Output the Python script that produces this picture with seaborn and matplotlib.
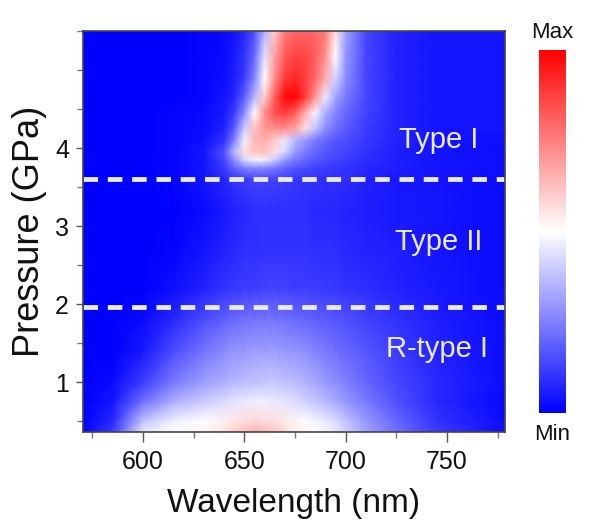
import numpy as np
import matplotlib
matplotlib.use('Agg')
import matplotlib.pyplot as plt
from matplotlib.ticker import MultipleLocator
import seaborn as sns

# grid of relative PL intensity (0 = Min, 1 = Max)
wavelengths = [570, 585, 600, 615, 630, 640, 645, 650, 655, 660, 665,
               670, 675, 680, 685, 690, 695, 700, 710, 725, 745, 780]
pressures = [0.36, 0.5, 0.75, 1.0, 1.4, 1.8, 2.2, 2.7, 3.2,
             3.6, 3.75, 3.85, 3.95, 4.1, 4.25, 4.45, 4.65, 4.9, 5.2, 5.5]

intensity = [
    [0.00, 0.12, 0.45, 0.50, 0.52, 0.56, 0.60, 0.63, 0.65, 0.64, 0.62, 0.58, 0.54, 0.52, 0.50, 0.48, 0.45, 0.41, 0.32, 0.22, 0.12, 0.02],  # 0.36
    [0.00, 0.08, 0.38, 0.47, 0.50, 0.53, 0.55, 0.57, 0.58, 0.57, 0.56, 0.54, 0.52, 0.50, 0.48, 0.46, 0.43, 0.38, 0.30, 0.20, 0.10, 0.02],  # 0.5
    [0.00, 0.04, 0.22, 0.34, 0.40, 0.43, 0.45, 0.46, 0.47, 0.47, 0.46, 0.45, 0.43, 0.41, 0.39, 0.36, 0.33, 0.30, 0.24, 0.16, 0.08, 0.01],  # 0.75
    [0.00, 0.02, 0.12, 0.24, 0.31, 0.34, 0.36, 0.37, 0.38, 0.39, 0.39, 0.38, 0.37, 0.35, 0.33, 0.30, 0.28, 0.25, 0.20, 0.14, 0.08, 0.02],  # 1.0
    [0.00, 0.00, 0.05, 0.15, 0.23, 0.27, 0.29, 0.30, 0.31, 0.31, 0.31, 0.30, 0.29, 0.28, 0.26, 0.24, 0.22, 0.20, 0.17, 0.12, 0.07, 0.02],  # 1.4
    [0.00, 0.00, 0.02, 0.08, 0.15, 0.19, 0.21, 0.22, 0.23, 0.23, 0.23, 0.22, 0.21, 0.20, 0.19, 0.18, 0.17, 0.16, 0.13, 0.10, 0.06, 0.02],  # 1.8
    [0.00, 0.00, 0.00, 0.03, 0.07, 0.10, 0.11, 0.12, 0.12, 0.13, 0.13, 0.13, 0.12, 0.12, 0.12, 0.11, 0.11, 0.10, 0.09, 0.07, 0.05, 0.02],  # 2.2
    [0.00, 0.00, 0.00, 0.01, 0.04, 0.07, 0.08, 0.09, 0.09, 0.10, 0.10, 0.10, 0.10, 0.10, 0.09, 0.09, 0.09, 0.08, 0.07, 0.06, 0.04, 0.02],  # 2.7
    [0.00, 0.00, 0.00, 0.00, 0.02, 0.05, 0.07, 0.08, 0.09, 0.09, 0.09, 0.09, 0.09, 0.09, 0.08, 0.08, 0.08, 0.07, 0.06, 0.05, 0.04, 0.02],  # 3.2
    [0.00, 0.00, 0.00, 0.01, 0.04, 0.08, 0.10, 0.12, 0.13, 0.13, 0.13, 0.12, 0.11, 0.10, 0.10, 0.09, 0.09, 0.09, 0.07, 0.05, 0.04, 0.02],  # 3.6
    [0.00, 0.00, 0.00, 0.01, 0.04, 0.12, 0.20, 0.26, 0.28, 0.27, 0.24, 0.20, 0.17, 0.15, 0.13, 0.12, 0.11, 0.10, 0.08, 0.06, 0.04, 0.03],  # 3.75
    [0.00, 0.00, 0.00, 0.01, 0.04, 0.14, 0.28, 0.42, 0.48, 0.47, 0.40, 0.30, 0.24, 0.20, 0.17, 0.15, 0.13, 0.12, 0.09, 0.06, 0.04, 0.03],  # 3.85
    [0.00, 0.00, 0.00, 0.01, 0.04, 0.16, 0.36, 0.56, 0.62, 0.62, 0.56, 0.42, 0.30, 0.24, 0.20, 0.17, 0.15, 0.13, 0.10, 0.06, 0.04, 0.03],  # 3.95
    [0.00, 0.00, 0.00, 0.01, 0.03, 0.10, 0.25, 0.48, 0.64, 0.66, 0.60, 0.46, 0.36, 0.30, 0.24, 0.20, 0.17, 0.15, 0.11, 0.07, 0.04, 0.03],  # 4.1
    [0.00, 0.00, 0.00, 0.01, 0.02, 0.07, 0.18, 0.40, 0.62, 0.70, 0.72, 0.72, 0.68, 0.56, 0.38, 0.28, 0.22, 0.18, 0.12, 0.07, 0.04, 0.04],  # 4.25
    [0.00, 0.00, 0.00, 0.01, 0.02, 0.05, 0.12, 0.28, 0.50, 0.72, 0.85, 0.88, 0.82, 0.66, 0.48, 0.34, 0.26, 0.20, 0.13, 0.07, 0.04, 0.04],  # 4.45
    [0.00, 0.00, 0.00, 0.00, 0.01, 0.04, 0.08, 0.18, 0.36, 0.60, 0.82, 0.98, 1.00, 0.88, 0.70, 0.46, 0.32, 0.24, 0.14, 0.07, 0.04, 0.04],  # 4.65
    [0.00, 0.00, 0.00, 0.00, 0.01, 0.03, 0.06, 0.12, 0.26, 0.50, 0.72, 0.88, 0.92, 0.88, 0.80, 0.66, 0.42, 0.28, 0.14, 0.07, 0.04, 0.04],  # 4.9
    [0.00, 0.00, 0.00, 0.00, 0.01, 0.02, 0.05, 0.10, 0.20, 0.44, 0.68, 0.82, 0.86, 0.86, 0.82, 0.72, 0.50, 0.30, 0.14, 0.07, 0.04, 0.04],  # 5.2
    [0.00, 0.00, 0.00, 0.00, 0.01, 0.02, 0.04, 0.08, 0.16, 0.35, 0.60, 0.76, 0.80, 0.80, 0.80, 0.76, 0.56, 0.32, 0.14, 0.07, 0.04, 0.04],  # 5.5
]

boundaries = [3.6, 1.96]
phase_labels = ['Type I', 'Type II', 'R-type I']
phase_label_pos = [(746, 4.1), (746, 2.8), (745, 1.42)]

sns.set_style('ticks')
plt.rcParams['font.family'] = ['Liberation Sans', 'DejaVu Sans']
plt.rcParams['text.color'] = '#111111'
plt.rcParams['axes.labelcolor'] = '#111111'
plt.rcParams['xtick.labelcolor'] = '#111111'
plt.rcParams['ytick.labelcolor'] = '#111111'

cmap = sns.color_palette('bwr', as_cmap=True)

fig = plt.figure(figsize=(6.11, 5.30), dpi=100)
ax = fig.add_axes([0.1358, 0.1849, 0.6907, 0.7566])

W, P = np.meshgrid(wavelengths, pressures)
mesh = ax.pcolormesh(W, P, np.array(intensity), cmap=cmap, vmin=0, vmax=1,
                     shading='gouraud', rasterized=True)

for p in boundaries:
    ax.axhline(p, color='#e8e8ff', lw=3.5, dashes=(3, 2))

for txt, (x, y) in zip(phase_labels, phase_label_pos):
    ax.text(x, y, txt, color='#ececff', fontsize=21, ha='center', va='center')

ax.set_xlim(570.4, 778.6)
ax.set_ylim(0.36, 5.5)
ax.xaxis.set_major_locator(MultipleLocator(50))
ax.xaxis.set_minor_locator(MultipleLocator(25))
ax.yaxis.set_minor_locator(MultipleLocator(0.5))
ax.set_yticks([1, 2, 3, 4])
ax.tick_params(which='major', direction='out', length=5, width=1, color='#555555',
               labelsize=18, pad=5)
ax.tick_params(which='minor', direction='out', length=4, width=1, color='#777777')
ax.tick_params(axis='x', which='major', length=7, pad=6)

for s in ax.spines.values():
    s.set_color('#444444')
    s.set_linewidth(1.2)

ax.set_xlabel('Wavelength (nm)', fontsize=24, labelpad=10)
ax.set_ylabel('Pressure (GPa)', fontsize=26, labelpad=6)

cax = fig.add_axes([0.882, 0.2208, 0.0442, 0.685])
cb = fig.colorbar(mesh, cax=cax)
cb.set_ticks([])
cb.outline.set_visible(False)
fig.text(0.9035, 1 - 33 / 530, 'Max', fontsize=16, ha='center', va='center')
fig.text(0.9035, 1 - 435 / 530, 'Min', fontsize=16, ha='center', va='center')

fig.savefig('out.png', dpi=100)
